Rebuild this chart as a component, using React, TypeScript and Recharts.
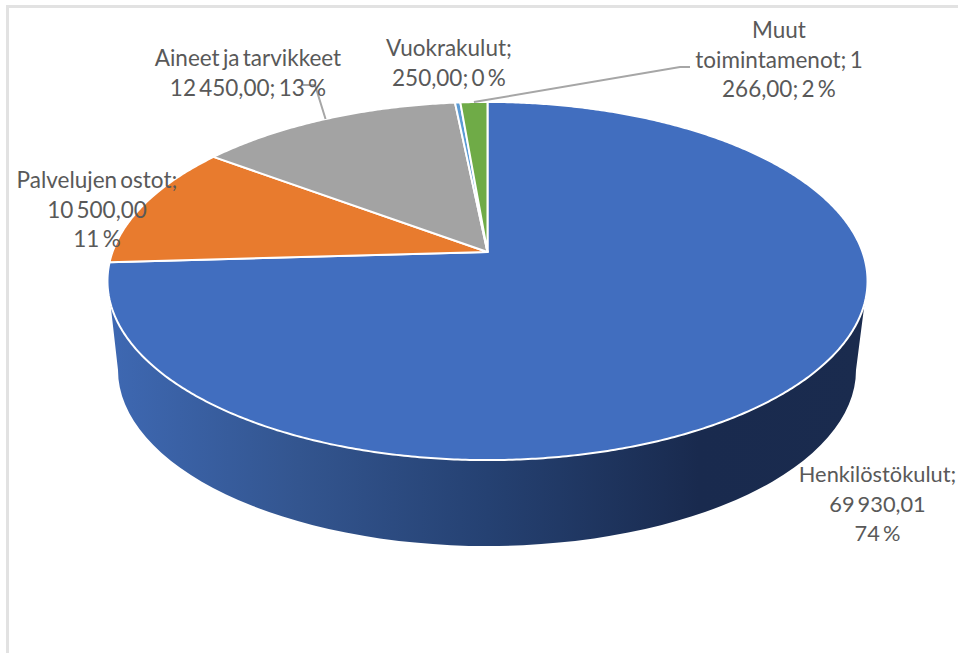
import { PieChart, Pie } from "recharts";

const categories = ["Henkilöstökulut", "Palvelujen ostot", "Aineet ja tarvikkeet", "Vuokrakulut", "Muut toimintamenot"];
const values = [69930.01, 10500, 12450, 250, 1266];
const colors = ["#416ebf", "#e87b2e", "#a3a3a3", "#5b9bd5", "#6fab47"];
const labelLines = [
  ["Henkilöstökulut;", "69 930,01", "74 %"],
  ["Palvelujen ostot;", "10 500,00", "11 %"],
  ["Aineet ja tarvikkeet", "12 450,00; 13 %"],
  ["Vuokrakulut;", "250,00; 0 %"],
  ["Muut", "toimintamenot; 1", "266,00; 2 %"],
];

const data = categories.map((name, i) => ({ name, value: values[i], fill: colors[i] }));

// label placement: centre x and first baseline
const labelAnchors = [
  { x: 877.5, y: 482 },
  { x: 97, y: 188 },
  { x: 248, y: 66 },
  { x: 449, y: 56 },
  { x: 779, y: 38 },
];
// elbow of the leader line, if the label has one
const leaderElbows: Record<number, number[][]> = {
  2: [[303, 85], [315, 85]],
  4: [[690, 67], [680, 67]],
};

const RADIUS = 375;
const SQUASH = 0.465; // tilt of the pie
const PERSPECTIVE = 0.162; // far edge looks smaller

// circle point -> tilted pie top
function project(cx: number, cy: number, r: number, angle: number) {
  const a = (angle * Math.PI) / 180;
  const u = Math.cos(a);
  const v = Math.sin(a);
  const w = 1 + PERSPECTIVE * v;
  return { x: cx + (r * u) / w, y: cy - (r * SQUASH * v) / w };
}

function PieSide() {
  return (
    <g>
      <defs>
        <linearGradient id="sideFill" gradientUnits="userSpaceOnUse" x1="110" y1="0" x2="865" y2="0">
          <stop offset="0" stopColor="#3e68b2" />
          <stop offset="0.25" stopColor="#33558f" />
          <stop offset="0.5" stopColor="#254172" />
          <stop offset="0.78" stopColor="#192a4e" />
          <stop offset="1" stopColor="#1a2b4e" />
        </linearGradient>
      </defs>
      <path
        d="M 110.5 304 L 118 370 A 369 176 0 0 0 856 370 L 864.5 304 Z"
        fill="url(#sideFill)"
      />
    </g>
  );
}

function renderSlice(props: any) {
  const { cx, cy, outerRadius, startAngle, endAngle, fill, index } = props;
  const steps = Math.max(2, Math.ceil(Math.abs(endAngle - startAngle) * 2));
  let d = `M ${cx} ${cy}`;
  for (let i = 0; i <= steps; i++) {
    const p = project(cx, cy, outerRadius, startAngle + ((endAngle - startAngle) * i) / steps);
    d += ` L ${p.x.toFixed(2)} ${p.y.toFixed(2)}`;
  }
  d += " Z";
  return (
    <g>
      {index === 0 && <PieSide />}
      <path d={d} fill={fill} stroke="#ffffff" strokeWidth={2} strokeLinejoin="round" />
    </g>
  );
}

function renderLabel(props: any) {
  const { cx, cy, outerRadius, midAngle, index } = props;
  const anchor = labelAnchors[index];
  const elbow = leaderElbows[index];
  const end = project(cx, cy, outerRadius, midAngle);
  return (
    <g>
      {elbow && (
        <polyline
          points={[...elbow, [end.x, end.y]].map((p) => p.join(",")).join(" ")}
          fill="none"
          stroke="#a6a6a6"
          strokeWidth={2}
        />
      )}
      <text
        textAnchor="middle"
        fontFamily="Lato, sans-serif"
        fontSize={index === 0 ? 21.8 : 22.5}
        fill="#595959"
        wordSpacing={-2.5}
      >
        {labelLines[index].map((line, i) => (
          <tspan key={line} x={anchor.x} y={anchor.y + i * 29.5}>
            {line}
          </tspan>
        ))}
      </text>
    </g>
  );
}

function App() {
  return (
    <div style={{ position: "absolute", left: 0, top: 0, width: 958, height: 653, overflow: "hidden", background: "#fff" }}>
      <div style={{ position: "absolute", left: 6, top: 5, width: 952, height: 648, borderLeft: "3px solid #e2e2e2", borderTop: "3px solid #e2e2e2" }} />
      <div style={{ position: "absolute", left: 0, top: 0 }}>
        <PieChart width={958} height={653} margin={{ top: 0, right: 0, bottom: 0, left: 0 }}>
          <Pie
            data={data}
            dataKey="value"
            nameKey="name"
            cx={487.5}
            cy={252}
            outerRadius={RADIUS}
            startAngle={90}
            endAngle={-270}
            paddingAngle={0}
            shape={renderSlice}
            label={renderLabel}
            labelLine={false}
            isAnimationActive={false}
          />
        </PieChart>
      </div>
    </div>
  );
}

export default App;
